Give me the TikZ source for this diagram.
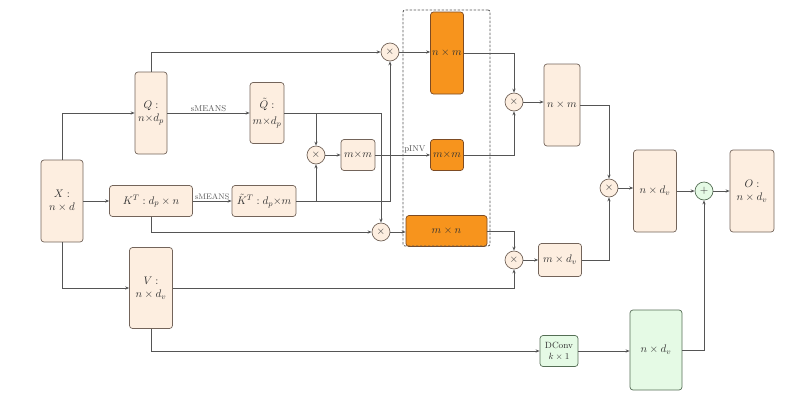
\documentclass[tikz,border=0pt]{standalone}
\usetikzlibrary{arrows.meta}
\definecolor{peach}{RGB}{253,238,224}
\definecolor{peachb}{RGB}{115,100,90}
\definecolor{orng}{RGB}{247,148,29}
\definecolor{orngb}{RGB}{125,75,35}
\definecolor{grn}{RGB}{229,250,229}
\definecolor{grnb}{RGB}{85,110,85}
\definecolor{linec}{RGB}{85,85,85}
\definecolor{txtc}{RGB}{50,50,50}
\begin{document}
\begin{tikzpicture}[x=1pt,y=-1pt,
  box/.style={draw=peachb, fill=peach, rounded corners=3pt, line width=0.7pt, align=center, inner sep=1pt, text=txtc, font=\fontsize{11}{13}\selectfont},
  obox/.style={box, draw=orngb, fill=orng},
  gbox/.style={box, draw=grnb, fill=grn},
  opc/.style={circle, draw=peachb, fill=peach, line width=0.7pt, minimum size=18pt, inner sep=0pt, text=txtc, font=\fontsize{11}{13}\selectfont},
  gopc/.style={opc, draw=grnb, fill=grn},
  arr/.style={draw=linec, line width=0.8pt, -{Stealth[length=4pt,width=3.2pt]}},
  lab/.style={font=\fontsize{8.5}{10}\selectfont, text=linec, inner sep=1pt},
  grpbox/.style={draw=linec, dashed, dash pattern=on 2.5pt off 1.5pt, line width=0.8pt, rounded corners=2pt, inner sep=0pt}
]
\useasboundingbox (0,0) rectangle (800,400);
% nodes
\node[box, minimum width=42pt, minimum height=82pt] (X) at (62,201) {$X:$\\$n\times d$};
\node[box, minimum width=32pt, minimum height=82pt] (Q) at (151,113) {$Q:$\\$n{\times}d_p$};
\node[box, minimum width=83pt, minimum height=31pt] (KT) at (151,201) {$K^T : d_p\times n$};
\node[box, minimum width=43pt, minimum height=81pt] (V) at (151,288) {$V:$\\$n\times d_v$};
\node[box, minimum width=34pt, minimum height=61pt] (Qt) at (267,113) {$\tilde{Q}:$\\[3pt]$m{\times}d_p$};
\node[box, minimum width=64pt, minimum height=31pt] (KTt) at (264,201) {$\tilde{K}^T : d_p{\times}m$};
\node[opc] (t1) at (316,155) {$\times$};
\node[box, minimum width=34pt, minimum height=31pt] (mm) at (358,155) {$m{\times}m$};
\node[opc] (t2) at (390,52) {$\times$};
\node[opc] (t3) at (381,232) {$\times$};
\node[obox, minimum width=33pt, minimum height=82pt] (onm) at (447,53) {$n\times m$};
\node[obox, minimum width=33pt, minimum height=31pt] (omm) at (447,155) {$m{\times}m$};
\node[obox, minimum width=81pt, minimum height=31pt] (omn) at (446.5,231) {$m\times n$};
\node[grpbox, minimum width=87pt, minimum height=236pt] (grp) at (446.5,128) {};
\node[opc] (t4) at (514,102) {$\times$};
\node[box, minimum width=36pt, minimum height=82pt] (nm) at (562,105) {$n\times m$};
\node[opc] (t5) at (514,260) {$\times$};
\node[box, minimum width=43pt, minimum height=33pt] (mdv) at (560,260) {$m\times d_v$};
\node[opc] (t6) at (609,188) {$\times$};
\node[box, minimum width=43pt, minimum height=82pt] (ndv) at (655,191) {$n\times d_v$};
\node[gopc] (pl) at (704,191) {$+$};
\node[box, minimum width=44pt, minimum height=82pt] (O) at (752,191) {$O:$\\$n\times d_v$};
\node[gbox, minimum width=38pt, minimum height=31pt, font=\fontsize{9}{10.5}\selectfont] (dc) at (559,351) {DConv\\$k\times 1$};
\node[gbox, minimum width=52pt, minimum height=80pt] (gndv) at (656,350) {$n\times d_v$};
% connectors
\draw[arr] (X.north) |- (Q.west);
\draw[arr] (X.east) -- (KT.west);
\draw[arr] (X.south) |- (V.west);
\draw[arr] (Q.north) |- (t2.west);
\draw[arr] (Q.east) -- node[lab, above]{sMEANS} (Qt.west);
\draw[arr] (KT.east) -- node[lab, above, inner sep=0.5pt, font=\fontsize{8}{9}\selectfont]{sMEANS} (KTt.west);
\draw[arr] (KT.south) |- (t3.west);
\draw[arr] (Qt.east) -| (t3.north);
\draw[arr] (t1 |- Qt.east) -- (t1.north);
\draw[arr] (KTt.east) -| (t2.south);
\draw[arr] (t1 |- KTt.east) -- (t1.south);
\draw[arr] (t1.east) -- (mm.west);
\draw[arr] (mm.east) -- node[lab, above, pos=0.72]{pINV} (omm.west);
\draw[arr] (t2.east) -- (t2.east -| onm.west);
\draw[arr] (t3.east) -- (t3.east -| omn.west);
\draw[arr] (onm.east) -| (t4.north);
\draw[arr] (omm.east) -| (t4.south);
\draw[arr] (t4.east) -- (t4.east -| nm.west);
\draw[arr] (omn.east) -| (t5.north);
\draw[arr] (V.east) -| (t5.south);
\draw[arr] (t5.east) -- (t5.east -| mdv.west);
\draw[arr] (nm.east) -| (t6.north);
\draw[arr] (mdv.east) -| (t6.south);
\draw[arr] (t6.east) -- (t6.east -| ndv.west);
\draw[arr] (ndv.east) -- (pl.west);
\draw[arr] (pl.east) -- (O.west);
\draw[arr] (V.south) |- (dc.west);
\draw[arr] (dc.east) -- (dc.east -| gndv.west);
\draw[arr] (gndv.east) -| (pl.south);
\end{tikzpicture}
\end{document}
